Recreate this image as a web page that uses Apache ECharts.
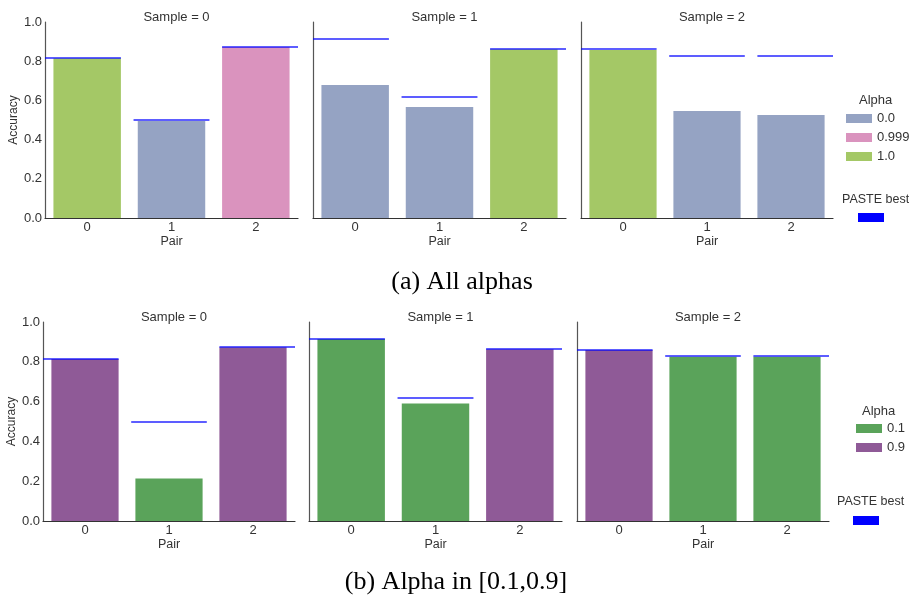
<!DOCTYPE html>
<html><head><meta charset="utf-8">
<script src="https://cdn.jsdelivr.net/npm/echarts@6/dist/echarts.min.js"></script>
<style>html,body{margin:0;padding:0;background:#fff}#c{width:909px;height:601px}</style>
</head><body><div id="c"></div>
<script>
const pairs = ['0', '1', '2'];
const samples = ['Sample = 0', 'Sample = 1', 'Sample = 2'];
const yTicks = [0, 0.2, 0.4, 0.6, 0.8, 1.0];

const topAlphaNames = ['0.0', '0.999', '1.0'];
const topAcc   = [[0.815, 0.495, 0.872], [0.679, 0.566, 0.861], [0.857, 0.546, 0.526]];
const topAlpha = [['1.0', '0.0', '0.999'], ['0.0', '0.0', '1.0'], ['1.0', '0.0', '0.0']];
const topBest  = [[0.818, 0.500, 0.876], [0.915, 0.619, 0.864], [0.861, 0.830, 0.830]];

const botAlphaNames = ['0.1', '0.9'];
const botAcc   = [[0.814, 0.214, 0.873], [0.915, 0.591, 0.863], [0.859, 0.826, 0.826]];
const botAlpha = [['0.9', '0.1', '0.9'], ['0.1', '0.1', '0.9'], ['0.9', '0.1', '0.1']];
const botBest  = [[0.817, 0.499, 0.876], [0.917, 0.620, 0.864], [0.861, 0.830, 0.830]];

const colors = {'0.0': '#95a3c3', '0.999': '#da93be', '1.0': '#a4c866', '0.1': '#5aa35a', '0.9': '#8f5a97'};

const rows = [
  {acc: topAcc, alpha: topAlpha, best: topBest, names: topAlphaNames,
   grids: [[45, 298], [313, 566], [581, 833]], top: 22, bottom: 218, yNameGap: 21},
  {acc: botAcc, alpha: botAlpha, best: botBest, names: botAlphaNames,
   grids: [[43, 295], [309, 562], [577, 829]], top: 322, bottom: 521, yNameGap: 24}
];

const grid = [], xAxis = [], yAxis = [], series = [], title = [];
const font = 'Liberation Sans, Arial, sans-serif';
rows.forEach((row, r) => {
  row.grids.forEach((g, p) => {
    const gi = grid.length;
    grid.push({left: g[0], width: g[1] - g[0], top: row.top, height: row.bottom - row.top});
    title.push({text: samples[p], left: (g[0] + g[1]) / 2, top: row.top - 16, textAlign: 'center',
      textStyle: {fontSize: 13, fontWeight: 'normal', color: '#333', fontFamily: font}});
    const xi = xAxis.length;
    xAxis.push({type: 'category', gridIndex: gi, data: pairs, name: 'Pair', nameLocation: 'middle', nameGap: 16,
      nameTextStyle: {fontSize: 12.5, color: '#333', fontFamily: font},
      axisLine: {lineStyle: {color: '#333', width: 1.2}}, axisTick: {show: false},
      axisLabel: {fontSize: 13, color: '#333', margin: 3, fontFamily: font}, splitLine: {show: false}});
    const xv = xAxis.length;
    xAxis.push({type: 'value', gridIndex: gi, min: 0, max: 1, show: false, splitLine: {show: false}});
    const yi = yAxis.length;
    yAxis.push({type: 'value', gridIndex: gi, min: 0, max: 1, interval: 0.2,
      name: p === 0 ? 'Accuracy' : '', nameLocation: 'middle', nameGap: row.yNameGap,
      nameTextStyle: {fontSize: 12, color: '#333', fontFamily: font},
      axisLine: {show: true, lineStyle: {color: '#555', width: 1.2}}, axisTick: {show: false},
      axisLabel: {show: p === 0, fontSize: 13, color: '#333', margin: 3, fontFamily: font,
        formatter: v => yTicks.includes(+v.toFixed(1)) ? v.toFixed(1) : ''},
      splitLine: {show: false}});
    row.names.forEach(nm => {
      series.push({type: 'bar', name: nm, xAxisIndex: xi, yAxisIndex: yi, stack: 's' + gi,
        barCategoryGap: '20%', itemStyle: {color: colors[nm]},
        data: row.acc[p].map((v, k) => row.alpha[p][k] === nm ? v : '-'), silent: true});
    });
    series.push({type: 'lines', name: 'PASTE best', coordinateSystem: 'cartesian2d', xAxisIndex: xv, yAxisIndex: yi,
      lineStyle: {color: '#0000ff', width: 1.6, opacity: 0.85}, z: 5, silent: true,
      data: row.best[p].map((v, k) => ({coords: [[k * 0.35, v], [k * 0.35 + 0.3, v]]}))});
  });
});

const legendText = {fontSize: 13, color: '#333', fontFamily: font};
const option = {
  animation: false,
  title, grid, xAxis, yAxis, series,
  legend: [
    {data: topAlphaNames, left: 841, top: 107, orient: 'vertical', icon: 'rect', itemWidth: 26, itemHeight: 9,
     itemGap: 6, textStyle: legendText, selectedMode: false},
    {data: botAlphaNames, left: 851, top: 417, orient: 'vertical', icon: 'rect', itemWidth: 26, itemHeight: 9,
     itemGap: 6, textStyle: legendText, selectedMode: false}
  ],
  graphic: [
    {type: 'text', left: 859, top: 94, style: {text: 'Alpha', fill: '#333', font: '13px ' + font}},
    {type: 'text', left: 842, top: 193, style: {text: 'PASTE best', fill: '#333', font: '12.5px ' + font}},
    {type: 'rect', shape: {x: 858, y: 213, width: 26, height: 9}, style: {fill: '#0000ff'}},
    {type: 'text', left: 862, top: 405, style: {text: 'Alpha', fill: '#333', font: '13px ' + font}},
    {type: 'text', left: 837, top: 495, style: {text: 'PASTE best', fill: '#333', font: '12.5px ' + font}},
    {type: 'rect', shape: {x: 853, y: 516, width: 26, height: 9}, style: {fill: '#0000ff'}},
    {type: 'text', x: 462, y: 282, style: {text: '(a) All alphas', fill: '#000', align: 'center', verticalAlign: 'middle',
      font: '26px "Liberation Serif", "Times New Roman", serif'}},
    {type: 'text', x: 456, y: 582, style: {text: '(b) Alpha in [0.1,0.9]', fill: '#000', align: 'center', verticalAlign: 'middle',
      font: '26px "Liberation Serif", "Times New Roman", serif'}}
  ]
};
const chart = echarts.init(document.getElementById('c'), null, {renderer: 'canvas'});
chart.setOption(option);
</script></body></html>
